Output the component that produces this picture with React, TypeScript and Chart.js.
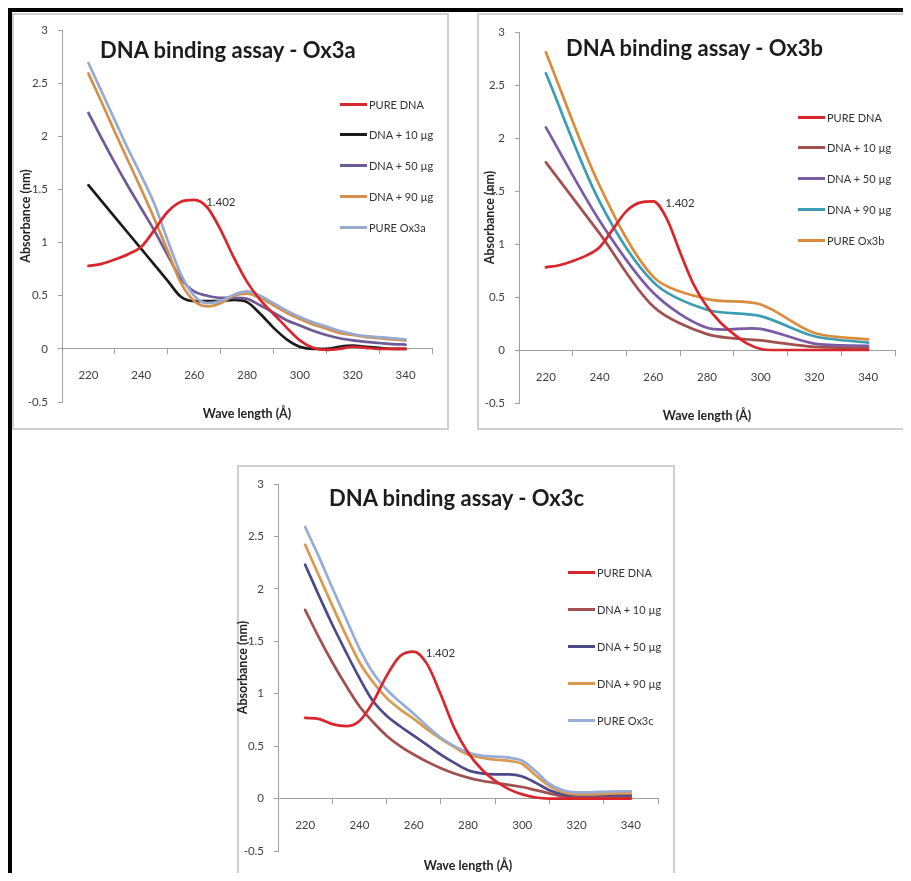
import React, { useEffect, useRef } from 'react';
import { Chart, registerables } from 'chart.js';

Chart.register(...registerables);
Chart.defaults.font.family = 'Lato';

// ---------- data ----------
const wl5 = [220, 225, 230, 235, 240, 245, 250, 255, 260, 265, 270, 275, 280, 285, 290, 295, 300, 305, 310, 315, 320, 325, 330, 335, 340];
const wl20 = [220, 240, 260, 280, 300, 320, 340];

const xTickLabels = [220, 240, 260, 280, 300, 320, 340];
const xTickMarks = [230, 250, 270, 290, 310, 330, 350];
const xMin = 210;
const xMax = 350;
const yTickValues = [-0.5, 0, 0.5, 1, 1.5, 2, 2.5, 3];

// Ox3a
const aPureDNA = [0.78, 0.8, 0.84, 0.89, 0.96, 1.12, 1.29, 1.385, 1.402, 1.33, 1.12, 0.86, 0.63, 0.46, 0.33, 0.2, 0.08, 0.01, -0.01, 0.0, 0.02, 0.01, 0.0, 0.0, 0.0];
const aDNA10 = [1.54, 1.39, 1.24, 1.09, 0.94, 0.79, 0.64, 0.49, 0.45, 0.45, 0.45, 0.46, 0.44, 0.33, 0.2, 0.09, 0.02, 0.0, 0.0, 0.02, 0.03, 0.02, 0.01, 0.0, 0.0];
const aDNA50 = [2.22, 1.98, 1.75, 1.53, 1.32, 1.11, 0.88, 0.66, 0.54, 0.5, 0.48, 0.48, 0.47, 0.41, 0.34, 0.27, 0.22, 0.17, 0.13, 0.1, 0.08, 0.065, 0.055, 0.045, 0.04];
const aDNA90 = [2.59, 2.32, 2.04, 1.77, 1.5, 1.22, 0.92, 0.62, 0.45, 0.4, 0.43, 0.5, 0.52, 0.48, 0.41, 0.34, 0.28, 0.23, 0.19, 0.15, 0.13, 0.11, 0.1, 0.09, 0.08];
const aPureOx = [2.69, 2.42, 2.15, 1.88, 1.63, 1.36, 1.02, 0.7, 0.5, 0.43, 0.45, 0.51, 0.54, 0.5, 0.43, 0.36, 0.3, 0.25, 0.21, 0.17, 0.14, 0.12, 0.11, 0.1, 0.09];

// Ox3b
const bPureDNA = [0.78, 0.8, 0.84, 0.89, 0.97, 1.14, 1.31, 1.39, 1.402, 1.24, 0.92, 0.62, 0.41, 0.26, 0.15, 0.06, 0.01, 0.0, 0.0, 0.0, 0.0, 0.0, 0.0, 0.0, 0.0];
const bDNA10 = [1.77, 1.1, 0.41, 0.15, 0.09, 0.03, 0.02];
const bDNA50 = [2.1, 1.22, 0.54, 0.21, 0.2, 0.06, 0.04];
const bDNA90 = [2.61, 1.4, 0.64, 0.38, 0.32, 0.13, 0.07];
const bPureOx = [2.81, 1.55, 0.69, 0.48, 0.43, 0.16, 0.1];

// Ox3c
const cPureDNA = [0.77, 0.76, 0.71, 0.69, 0.74, 0.92, 1.17, 1.36, 1.402, 1.28, 0.99, 0.67, 0.44, 0.28, 0.17, 0.09, 0.04, 0.01, 0.0, 0.0, 0.0, 0.0, 0.0, 0.0, 0.0];
const cDNA10 = [1.8, 1.54, 1.3, 1.08, 0.88, 0.73, 0.6, 0.5, 0.42, 0.35, 0.29, 0.24, 0.2, 0.17, 0.15, 0.13, 0.11, 0.08, 0.05, 0.02, 0.01, 0.01, 0.01, 0.01, 0.01];
const cDNA50 = [2.23, 1.94, 1.66, 1.4, 1.15, 0.93, 0.79, 0.69, 0.6, 0.51, 0.42, 0.34, 0.27, 0.24, 0.23, 0.23, 0.21, 0.15, 0.08, 0.04, 0.03, 0.03, 0.03, 0.03, 0.03];
const cDNA90 = [2.42, 2.13, 1.84, 1.56, 1.3, 1.11, 0.96, 0.85, 0.76, 0.66, 0.57, 0.49, 0.42, 0.39, 0.37, 0.36, 0.33, 0.22, 0.12, 0.06, 0.04, 0.04, 0.045, 0.05, 0.05];
const cPureOx = [2.59, 2.31, 2.01, 1.72, 1.43, 1.2, 1.04, 0.92, 0.81, 0.69, 0.58, 0.5, 0.44, 0.41, 0.4, 0.39, 0.36, 0.26, 0.14, 0.08, 0.06, 0.06, 0.065, 0.07, 0.07];

const labelsA = ['PURE DNA', 'DNA + 10 µg', 'DNA + 50 µg', 'DNA + 90 µg', 'PURE Ox3a'];
const labelsB = ['PURE DNA', 'DNA + 10 µg', 'DNA + 50 µg', 'DNA + 90 µg', 'PURE Ox3b'];
const labelsC = ['PURE DNA', 'DNA + 10 µg', 'DNA + 50 µg', 'DNA + 90 µg', 'PURE Ox3c'];

const titleA = 'DNA binding assay - Ox3a';
const titleB = 'DNA binding assay - Ox3b';
const titleC = 'DNA binding assay - Ox3c';
const xTitle = 'Wave length (Å)';
const yTitle = 'Absorbance (nm)';

// ---------- styles ----------
const RED = '#d8262c';
const colorsA = [RED, '#1b1b1b', '#6f5a98', '#d3914c', '#98aad0'];
const colorsB = [RED, '#a0504e', '#7b5aa6', '#3b9db3', '#d88c3c'];
const colorsC = [RED, '#a0504e', '#4c4a8a', '#d99a4f', '#97acd6'];

const AXIS = '#a0a0a0';
const TICKTXT = '#404040';
const OFF = 8; // body margin
const PAD_TOP = 20;

const panels = [
  {
    key: 'a', title: titleA, labels: labelsA, colors: colorsA,
    xs: [wl5, wl5, wl5, wl5, wl5], ys: [aPureDNA, aDNA10, aDNA50, aDNA90, aPureOx],
    box: { x: 12, y: 13, w: 437, h: 417, noBottom: false },
    titlePos: { x: 100, y: 50 },
    legend: { x: 340, y0: 104, dy: 30.75 },
    canvas: { x: 18, y: 10, w: 429, h: 420, W: 44, padB: 28, xTitlePad: -44.5 },
  },
  {
    key: 'b', title: titleB, labels: labelsB, colors: colorsB,
    xs: [wl5, wl20, wl20, wl20, wl20], ys: [bPureDNA, bDNA10, bDNA50, bDNA90, bPureOx],
    box: { x: 477, y: 13, w: 432, h: 417, noBottom: false },
    titlePos: { x: 566, y: 48 },
    legend: { x: 798, y0: 117, dy: 30.75 },
    canvas: { x: 482, y: 12, w: 428, h: 419, W: 37, padB: 28, xTitlePad: -45.5 },
  },
  {
    key: 'c', title: titleC, labels: labelsC, colors: colorsC,
    xs: [wl5, wl5, wl5, wl5, wl5], ys: [cPureDNA, cDNA10, cDNA50, cDNA90, cPureOx],
    box: { x: 237, y: 465, w: 438, h: 420, noBottom: true },
    titlePos: { x: 329, y: 498 },
    legend: { x: 568, y0: 572, dy: 37 },
    canvas: { x: 235, y: 464, w: 438, h: 417, W: 43, padB: 30, xTitlePad: -46.5 },
  },
];

const drawOrder = [0, 4, 3, 2, 1];

const peakLabelPlugin = {
  id: 'peakLabel',
  afterDatasetsDraw(chart: any) {
    const ds = chart.data.datasets[0];
    const data = ds.data as { x: number; y: number }[];
    let idx = 0;
    data.forEach((p, i) => { if (p.y > data[idx].y) idx = i; });
    const el = chart.getDatasetMeta(0).data[idx];
    if (!el) return;
    const ctx = chart.ctx;
    ctx.save();
    ctx.font = '11.5px Lato';
    ctx.fillStyle = '#333333';
    ctx.textAlign = 'left';
    ctx.textBaseline = 'middle';
    ctx.fillText(data[idx].y.toFixed(3), el.x + 12, el.y + 2);
    ctx.restore();
  },
};

function ChartCanvas({ p }: { p: any }) {
  const ref = useRef<HTMLCanvasElement>(null);
  useEffect(() => {
    const c = p.canvas;
    const chart = new Chart(ref.current as HTMLCanvasElement, {
      type: 'line',
      data: {
        datasets: p.ys.map((ys: number[], i: number) => {
          const xs = p.xs[i];
          const coarse = xs.length < 10;
          return {
            label: p.labels[i],
            data: xs.map((x: number, j: number) => ({ x, y: ys[j] })),
            borderColor: p.colors[i],
            backgroundColor: p.colors[i],
            borderWidth: 2.7,
            pointRadius: 0,
            fill: false,
            tension: coarse ? 0.3 : 0.4,
            cubicInterpolationMode: coarse ? 'default' : 'monotone',
            borderCapStyle: 'round',
            borderJoinStyle: 'round',
            order: drawOrder[i],
          };
        }),
      },
      options: {
        responsive: false,
        animation: false,
        devicePixelRatio: 1,
        events: [],
        layout: { padding: { top: PAD_TOP, right: 4, bottom: c.padB, left: 0 } },
        plugins: { legend: { display: false }, title: { display: false }, tooltip: { enabled: false } },
        scales: {
          x: {
            type: 'linear',
            position: { y: 0 },
            min: xMin,
            max: xMax,
            afterBuildTicks: (s: any) => {
              const vals: number[] = [];
              for (let v = xMin; v <= xMax; v += 10) vals.push(v);
              s.ticks = vals.map((v) => ({ value: v }));
            },
            afterFit: (s: any) => { s.height = 28; },
            grid: {
              drawOnChartArea: false,
              drawTicks: true,
              tickLength: 5,
              tickWidth: 1,
              tickColor: (ctx: any) => (ctx.tick && xTickMarks.includes(ctx.tick.value) ? AXIS : 'rgba(0,0,0,0)'),
            },
            border: { display: true, color: AXIS, width: 1 },
            ticks: {
              autoSkip: false,
              maxRotation: 0,
              minRotation: 0,
              padding: 15,
              color: TICKTXT,
              font: { family: 'Lato', size: 11.5 },
              callback: (v: any) => (xTickLabels.includes(Number(v)) ? String(v) : ''),
            },
            title: {
              display: true,
              text: xTitle,
              color: '#222222',
              font: { family: 'Lato', size: 12.5, weight: 'bold' },
              padding: { top: 0, bottom: c.xTitlePad },
            },
          },
          y: {
            type: 'linear',
            position: 'left',
            min: yTickValues[0],
            max: yTickValues[yTickValues.length - 1],
            afterBuildTicks: (s: any) => { s.ticks = yTickValues.map((v) => ({ value: v })); },
            afterFit: (s: any) => { s.width = c.W; },
            grid: { drawOnChartArea: false, drawTicks: true, tickLength: 4, tickColor: AXIS },
            border: { display: true, color: AXIS, width: 1 },
            ticks: {
              padding: 10,
              color: TICKTXT,
              font: { family: 'Lato', size: 11.5 },
              callback: (v: any) => String(Math.round(Number(v) * 10) / 10),
            },
            title: {
              display: true,
              text: yTitle,
              color: '#222222',
              font: { family: 'Lato', size: 12.5, weight: 'bold' },
              padding: { top: 0, bottom: 0 },
            },
          },
        },
      } as any,
      plugins: [peakLabelPlugin],
    } as any);
    return () => chart.destroy();
  }, [p]);
  const c = p.canvas;
  return (
    <canvas
      ref={ref}
      width={c.w}
      height={c.h}
      style={{ position: 'absolute', left: c.x - OFF, top: c.y - OFF, width: c.w, height: c.h }}
    />
  );
}

function Panel({ p }: { p: any }) {
  const b = p.box;
  return (
    <>
      <div
        style={{
          position: 'absolute',
          left: b.x - OFF,
          top: b.y - OFF,
          width: b.w,
          height: b.noBottom ? 881 - b.y : b.h,
          boxSizing: 'border-box',
          border: '2px solid #cfcfcf',
          borderBottom: b.noBottom ? 'none' : '2px solid #cfcfcf',
          background: '#ffffff',
        }}
      />
      <ChartCanvas p={p} />
      <div
        style={{
          position: 'absolute',
          left: p.titlePos.x - OFF,
          top: p.titlePos.y - OFF - 14,
          height: 28,
          lineHeight: '28px',
          fontFamily: 'Lato',
          fontWeight: 700,
          fontSize: 22,
          color: '#1c1c1c',
          whiteSpace: 'nowrap',
        }}
      >
        {p.title}
      </div>
      {p.labels.map((name: string, i: number) => (
        <div
          key={name}
          style={{
            position: 'absolute',
            left: p.legend.x - OFF,
            top: p.legend.y0 + i * p.legend.dy - OFF - 8,
            height: 16,
            display: 'flex',
            alignItems: 'center',
            fontFamily: 'Lato',
            fontSize: 11,
            color: '#333333',
            whiteSpace: 'nowrap',
          }}
        >
          <span style={{ display: 'inline-block', width: 27, height: 3, background: p.colors[i], marginRight: 2 }} />
          {name}
        </div>
      ))}
    </>
  );
}

export default function App() {
  return (
    <div style={{ position: 'relative', width: 895, height: 865, background: '#ffffff' }}>
      <div
        style={{
          position: 'absolute',
          left: 0,
          top: 0,
          width: 903,
          height: 873,
          boxSizing: 'border-box',
          borderTop: '4px solid #000',
          borderLeft: '4px solid #000',
        }}
      />
      {panels.map((p) => (
        <Panel key={p.key} p={p} />
      ))}
    </div>
  );
}
